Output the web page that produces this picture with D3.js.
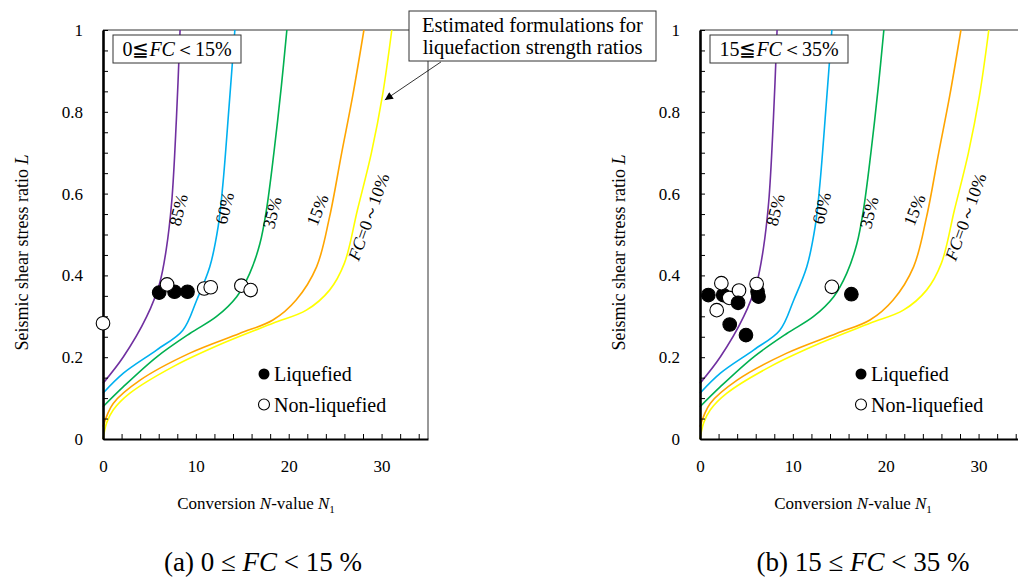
<!DOCTYPE html>
<html>
<head>
<meta charset="utf-8">
<script src="https://cdn.jsdelivr.net/npm/d3@7"></script>
<style>
  body { margin: 0; background: #fff; }
  .axis path, .axis line { stroke: #000; }
</style>
</head>
<body>
<svg id="chart" width="1018" height="585"></svg>
<script>
const SERIF = '"Liberation Serif", "Times New Roman", serif';

// liquefaction strength curves, [N1, L]
const curve85 = [[0,0.136],[2.2,0.201],[4.7,0.299],[6.1,0.381],[6.8,0.462],[7.4,0.58],[7.9,0.78],[8.3,1.0]];
const curve60 = [[0,0.112],[2.2,0.161],[5.8,0.218],[8.6,0.266],[10.1,0.34],[11.5,0.421],[12.4,0.519],[12.9,0.62],[13.6,0.82],[14.2,1.0]];
const curve35 = [[0,0.079],[2.2,0.128],[5.8,0.201],[9.35,0.258],[12.2,0.299],[14.4,0.348],[15.8,0.405],[16.9,0.478],[17.6,0.56],[18.4,0.699],[19.2,0.861],[19.8,1.0]];
const curve15 = [[0,0.03],[1.1,0.087],[4,0.144],[9.35,0.21],[14.7,0.258],[18.3,0.291],[20.8,0.34],[23,0.421],[24.4,0.543],[25.7,0.699],[26.9,0.84],[28.1,1.0]];
const curve0_10 = [[0,0],[0.4,0.04],[1.1,0.071],[2.9,0.112],[7.56,0.177],[12.9,0.234],[18.3,0.283],[21.9,0.315],[24.4,0.364],[26.0,0.43],[27.4,0.56],[28.9,0.699],[30.1,0.84],[31.1,1.0]];

const curveColors = ['#7030A0', '#00B0F0', '#00B050', '#FFA500', '#FFFF00'];
const curves = [curve85, curve60, curve35, curve15, curve0_10];

// label text, position [N1, L], rotation
const curveLabelText = ['85%', '60%', '35%', '15%', 'FC=0～10%'];
const curveLabelPos = [[8.1,0.56],[13.1,0.564],[18.2,0.553],[23.1,0.56],[28.6,0.543]];
const curveLabelAngle = [-76, -76, -76, -68, -70];

// observations
const liquefiedA = [[6.05,0.358],[7.7,0.36],[9.1,0.36]];
const nonLiquefiedA = [[0,0.283],[6.9,0.378],[10.9,0.368],[11.6,0.371],[14.9,0.375],[15.9,0.364]];
const liquefiedB = [[0.9,0.352],[2.5,0.352],[3.2,0.28],[4.95,0.254],[6.2,0.36],[6.3,0.348],[16.3,0.354]];
const nonLiquefiedB = [[2.3,0.381],[3.15,0.345],[1.8,0.315],[4.2,0.363],[6.1,0.379],[14.2,0.372]];
const liquefiedB2 = [[4.1,0.333]];

const xTickLabels = [0, 10, 20, 30];
const yTickLabels = [0, 0.2, 0.4, 0.6, 0.8, 1];

const svg = d3.select('#chart').style('font-family', SERIF);
const width = 325, height = 409;

function drawPanel(x0, y0, opts) {
  const g = svg.append('g').attr('transform', `translate(${x0}, ${y0})`);

  const x = d3.scaleLinear().domain([0, 35]).range([0, width]);
  const y = d3.scaleLinear().domain([0, 1]).range([height, 0]);

  // frame top/right
  g.append('line').attr('x1', 0).attr('x2', width).attr('y1', 0).attr('y2', 0)
    .attr('stroke', '#333').attr('stroke-width', 1);
  g.append('line').attr('x1', width).attr('x2', width).attr('y1', 0).attr('y2', height)
    .attr('stroke', '#333').attr('stroke-width', 1);

  const line = d3.line()
    .x(d => x(d[0]))
    .y(d => y(d[1]))
    .curve(d3.curveCatmullRom.alpha(0.5));

  g.selectAll('path.curve')
      .data(curves)
    .join('path')
      .attr('class', 'curve')
      .attr('fill', 'none')
      .attr('stroke', (d, i) => curveColors[i])
      .attr('stroke-width', 1.6)
      .attr('d', d => line(d));

  // curve labels
  curveLabelText.forEach((t, i) => {
    const p = curveLabelPos[i];
    const txt = g.append('text')
      .attr('transform', `translate(${x(p[0])}, ${y(p[1])}) rotate(${curveLabelAngle[i]})`)
      .attr('text-anchor', 'middle')
      .attr('dominant-baseline', 'central')
      .style('font-size', '17.5px');
    if (t.startsWith('FC')) {
      txt.append('tspan').style('font-style', 'italic').text('FC');
      txt.append('tspan').text(t.slice(2));
    } else {
      txt.text(t);
    }
  });

  // axes
  g.append('g')
    .attr('class', 'axis')
    .attr('transform', `translate(0, ${height})`)
    .call(d3.axisBottom(x)
      .tickValues(d3.range(0, 35, 2))
      .tickSizeInner(-5).tickSizeOuter(0).tickPadding(21)
      .tickFormat(d => xTickLabels.includes(d) ? d : ''))
    .call(a => a.select('.domain').attr('stroke-width', 2.2))
    .call(a => a.selectAll('text').style('font-size', '17px'));

  g.append('g')
    .attr('class', 'axis')
    .call(d3.axisLeft(y)
      .tickValues(d3.range(0, 1.0001, 0.05).map(v => +v.toFixed(2)))
      .tickSizeInner(-5).tickSizeOuter(0).tickPadding(20)
      .tickFormat(d => yTickLabels.includes(d) ? d : ''))
    .call(a => a.select('.domain').attr('stroke-width', 2.6))
    .call(a => a.selectAll('text').style('font-size', '17px'));

  // points
  const drawPts = (data, fill) => g.append('g').selectAll('circle')
      .data(data)
    .join('circle')
      .attr('cx', d => x(d[0]))
      .attr('cy', d => y(d[1]))
      .attr('r', 6.8)
      .attr('fill', fill)
      .attr('stroke', '#000')
      .attr('stroke-width', 1.1);
  drawPts(opts.liq, '#000');
  drawPts(opts.non, '#fff');
  if (opts.liq2) drawPts(opts.liq2, '#000');

  // legend
  const leg = g.append('g').attr('transform', 'translate(161, 344)');
  leg.append('circle').attr('cx', 0).attr('cy', 0).attr('r', 5.5).attr('fill', '#000');
  leg.append('text').attr('x', 10).attr('y', 0).attr('dominant-baseline', 'central')
    .style('font-size', '20px').text('Liquefied');
  leg.append('circle').attr('cx', 0).attr('cy', 30.5).attr('r', 5.5)
    .attr('fill', '#fff').attr('stroke', '#000').attr('stroke-width', 1.1);
  leg.append('text').attr('x', 10).attr('y', 30.5).attr('dominant-baseline', 'central')
    .style('font-size', '20px').text('Non-liquefied');

  // FC range box
  const box = g.append('g').attr('transform', 'translate(10, 5)');
  box.append('rect').attr('width', opts.boxW).attr('height', 28)
    .attr('fill', '#fff').attr('stroke', '#333').attr('stroke-width', 1);
  const bt = box.append('text').attr('x', opts.boxW / 2).attr('y', 21)
    .attr('text-anchor', 'middle').style('font-size', '20px');
  bt.append('tspan').text(opts.boxPre);
  bt.append('tspan').style('font-style', 'italic').text('FC');
  bt.append('tspan').text(opts.boxPost);

  // axis titles
  const yt = g.append('text')
    .attr('transform', `translate(-81, ${height / 2 + 18}) rotate(-90)`)
    .attr('text-anchor', 'middle')
    .attr('dominant-baseline', 'central')
    .style('font-size', '18px');
  yt.append('tspan').text('Seismic shear stress ratio ');
  yt.append('tspan').style('font-style', 'italic').text('L');

  const xt = g.append('text')
    .attr('x', 153).attr('y', height + 70)
    .attr('text-anchor', 'middle')
    .style('font-size', '17px');
  xt.append('tspan').text('Conversion ');
  xt.append('tspan').style('font-style', 'italic').text('N');
  xt.append('tspan').text('-value ');
  xt.append('tspan').style('font-style', 'italic').text('N');
  xt.append('tspan').attr('dy', 4).style('font-size', '11px').text('1');

  // caption
  const cap = g.append('text')
    .attr('x', opts.capX).attr('y', height + 132)
    .attr('text-anchor', 'middle')
    .style('font-size', '27px');
  cap.append('tspan').text(opts.capPre);
  cap.append('tspan').style('font-style', 'italic').text('FC');
  cap.append('tspan').text(opts.capPost);

  return {g, x, y};
}

const left = drawPanel(103, 30, {
  liq: liquefiedA, non: nonLiquefiedA,
  boxW: 128, boxPre: '0≦', boxPost: '＜15%',
  capX: 160, capPre: '(a) 0 ≤ ', capPost: ' < 15 %'
});

drawPanel(700, 30, {
  liq: liquefiedB, non: nonLiquefiedB, liq2: liquefiedB2,
  boxW: 138, boxPre: '15≦', boxPost: '＜35%',
  capX: 163, capPre: '(b) 15 ≤ ', capPost: ' < 35 %'
});

// callout for the left panel
svg.append('defs').append('marker')
    .attr('id', 'arrow')
    .attr('viewBox', '0 0 10 10')
    .attr('refX', 10).attr('refY', 5)
    .attr('markerWidth', 11).attr('markerHeight', 8)
    .attr('markerUnits', 'userSpaceOnUse')
    .attr('orient', 'auto')
  .append('path').attr('d', 'M0,0 L10,5 L0,10 z').attr('fill', '#000');

left.g.append('line')
  .attr('x1', left.x(36.4)).attr('y1', left.y(0.922))
  .attr('x2', left.x(30.35)).attr('y2', left.y(0.829))
  .attr('stroke', '#000').attr('stroke-width', 0.8)
  .attr('marker-end', 'url(#arrow)');

const call = svg.append('g').attr('transform', 'translate(409, 11)');
call.append('rect').attr('width', 247).attr('height', 50)
  .attr('fill', '#fff').attr('stroke', '#333').attr('stroke-width', 1);
call.append('text').attr('x', 123.5).attr('y', 21).attr('text-anchor', 'middle')
  .style('font-size', '20.5px').text('Estimated formulations for');
call.append('text').attr('x', 123.5).attr('y', 43).attr('text-anchor', 'middle')
  .style('font-size', '20.5px').text('liquefaction strength ratios');

// serif everywhere, overriding the axis default
svg.selectAll('text').style('font-family', SERIF).style('fill', '#000');
</script>
</body>
</html>
